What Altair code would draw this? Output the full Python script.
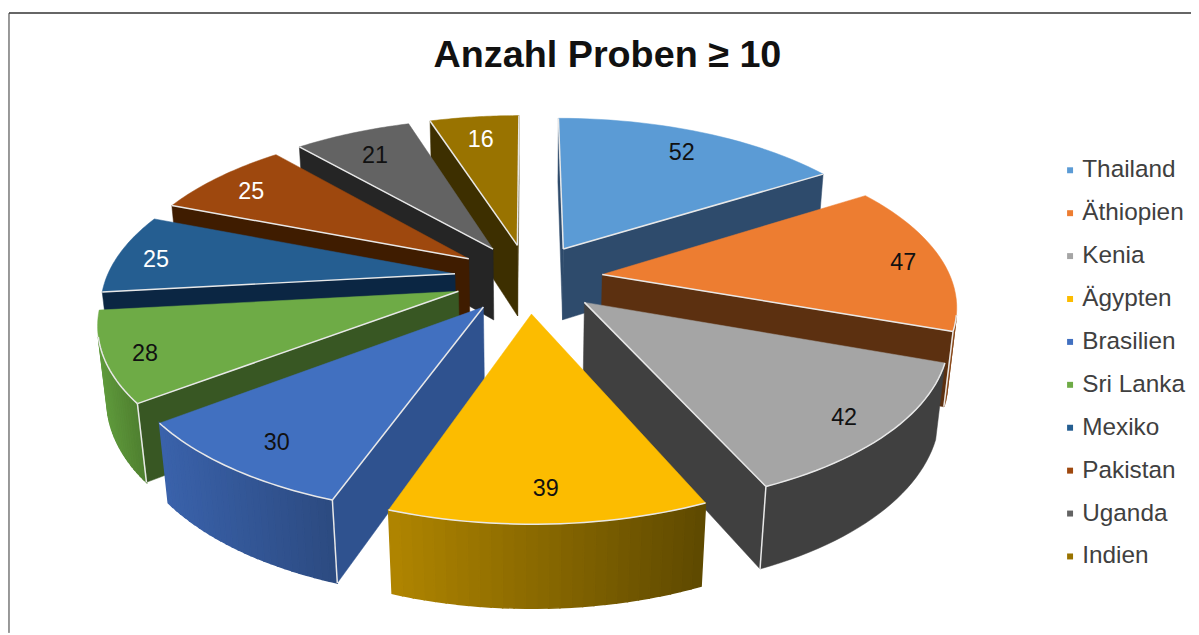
import math
import altair as alt

countries = ["Thailand", "Äthiopien", "Kenia", "Ägypten", "Brasilien", "Sri Lanka", "Mexiko", "Pakistan", "Uganda", "Indien"]
values = [52, 47, 42, 39, 30, 28, 25, 25, 21, 16]
top_colors = ["#5B9BD5", "#ED7D31", "#A5A5A5", "#FCBC00", "#4170C0", "#6EAB46", "#255E91", "#9E480E", "#636363", "#997300"]
side_colors = ["#2E4B6C", "#5C3010", "#404040", "#6B5400", "#2F528F", "#385723", "#0B2643", "#3F1C00", "#252525", "#3D2F00"]
outer_left = ["#3A6591", "#A85A22", "#404040", "#B08500", "#3A62AB", "#5F9A3C", "#1A4468", "#6E320A", "#444444", "#6B5000"]
outer_right = ["#3A6591", "#8A4A1C", "#404040", "#5E4900", "#2C4A80", "#4F8030", "#1A4468", "#6E320A", "#444444", "#6B5000"]
label_colors = ["#111111", "#111111", "#111111", "#111111", "#111111", "#111111", "#FFFFFF", "#FFFFFF", "#111111", "#FFFFFF"]

# pie geometry: a tilted, exploded disc seen in perspective
CX, CY = 532, 278
RADIUS, EXPLODE, DEPTH = 351, 75, 84
ELEV = math.radians(27.6)
CAMERA = 1860
LABEL_FRAC = [0.84, 0.89, 0.87, 0.84, 0.84, 0.89, 0.89, 0.86, 0.82, 0.83]
EDGE = "#E8E8E8"
PROJ = dict(type="identity", scale=1, translate=[-8, -8])


def proj(u, v, h=0.0):
    s = CAMERA / (CAMERA - v * math.cos(ELEV) - h * math.sin(ELEV))
    return [CX + u * s, CY + s * (v * math.sin(ELEV) - h * math.cos(ELEV))]


def hexmix(a, b, t):
    ca = [int(a[i:i + 2], 16) for i in (1, 3, 5)]
    cb = [int(b[i:i + 2], 16) for i in (1, 3, 5)]
    return "#%02X%02X%02X" % tuple(round(x + (y - x) * t) for x, y in zip(ca, cb))


def area(p):
    return sum(p[i][0] * p[(i + 1) % len(p)][1] - p[(i + 1) % len(p)][0] * p[i][1] for i in range(len(p))) / 2


def poly(pts, fill, stroke, width):
    return {"type": "Feature", "geometry": {"type": "Polygon", "coordinates": [pts + [pts[0]]]},
            "properties": {"fill": fill, "stroke": stroke, "sw": width}}


def line(pts, stroke, width):
    return {"type": "Feature", "geometry": {"type": "LineString", "coordinates": pts},
            "properties": {"fill": "transparent", "stroke": stroke, "sw": width}}


total = sum(values)
slices, start = [], 0.0
for i, val in enumerate(values):
    a0 = start / total * 2 * math.pi
    start += val
    a1 = start / total * 2 * math.pi
    slices.append((i, a0, a1))
# far slices first, near slices painted over them
slices.sort(key=lambda s: math.cos((s[1] + s[2]) / 2), reverse=True)

features, labels = [], []
for i, a0, a1 in slices:
    mid = (a0 + a1) / 2
    ox, oy = EXPLODE * math.sin(mid), -EXPLODE * math.cos(mid)

    def pt(r, a, h=0.0):
        return proj(ox + r * math.sin(a), oy - r * math.cos(a), h)

    n = 28
    angs = [a0 + (a1 - a0) * k / n for k in range(n + 1)]
    top = [pt(0, a0)] + [pt(RADIUS, a) for a in angs]
    walls = []
    # radial walls
    for a, flip in ((a0, True), (a1, False)):
        q = [pt(0, a), pt(RADIUS, a), pt(RADIUS, a, -DEPTH), pt(0, a, -DEPTH)]
        if flip:
            q = q[::-1]
        if area(q) > 0:
            features.append(poly(q, side_colors[i], side_colors[i], 0.5))
            walls.append(a)
    # outer wall, shaded left to right
    xs = [pt(RADIUS, a)[0] for a in angs]
    xmin, xmax = min(xs), max(xs)
    vis = [k for k in range(n) if area([pt(RADIUS, angs[k]), pt(RADIUS, angs[k + 1]),
                                        pt(RADIUS, angs[k + 1], -DEPTH), pt(RADIUS, angs[k], -DEPTH)]) < 0]
    if vis and outer_left[i] == outer_right[i]:
        arc = [angs[k] for k in vis] + [angs[vis[-1] + 1]]
        q = [pt(RADIUS, a) for a in arc] + [pt(RADIUS, a, -DEPTH) for a in reversed(arc)]
        features.append(poly(q, outer_left[i], outer_left[i], 0.5))
    else:
        for k in vis:
            q = [pt(RADIUS, angs[k]), pt(RADIUS, angs[k + 1]), pt(RADIUS, angs[k + 1], -DEPTH), pt(RADIUS, angs[k], -DEPTH)]
            t = ((q[0][0] + q[1][0]) / 2 - xmin) / max(xmax - xmin, 1)
            col = hexmix(outer_left[i], outer_right[i], t)
            features.append(poly(q, col, col, 1.5))
    # top face and its light edges
    features.append(poly(top, top_colors[i], top_colors[i], 0.5))
    for a in walls:
        features.append(line([pt(0, a), pt(RADIUS, a)], EDGE, 1.5))
        if vis and a in (angs[vis[0]], angs[vis[-1] + 1]):
            features.append(line([pt(RADIUS, a), pt(RADIUS, a, -DEPTH)], EDGE, 1.5))
    if vis:
        features.append(line([pt(RADIUS, angs[k]) for k in vis] + [pt(RADIUS, angs[vis[-1] + 1])], EDGE, 1.5))
    lx, ly = pt(RADIUS * LABEL_FRAC[i], mid)
    labels.append({"lon": lx, "lat": ly, "label": str(values[i]), "col": label_colors[i]})

pie = alt.Chart(alt.Data(values=features, format=alt.DataFormat(type="json"))).mark_geoshape().encode(
    fill=alt.Fill("properties.fill:N", scale=None),
    stroke=alt.Stroke("properties.stroke:N", scale=None),
    strokeWidth=alt.StrokeWidth("properties.sw:Q", scale=None),
).project(**PROJ)

text = alt.Chart(alt.Data(values=labels)).mark_text(font="Liberation Sans", fontSize=23.5, dy=4).encode(
    longitude="lon:Q",
    latitude="lat:Q",
    text="label:N",
    color=alt.Color("col:N", scale=None),
).project(**PROJ)

legend = alt.Chart(alt.Data(values=[{"c": c} for c in countries])).mark_square(size=0).encode(
    x=alt.value(0),
    y=alt.value(0),
    color=alt.Color(
        "c:N",
        scale=alt.Scale(domain=countries, range=top_colors),
        legend=alt.Legend(
            title=None, orient="none", legendX=1057, legendY=149, symbolType="square", symbolSize=36,
            symbolStrokeWidth=0, symbolOpacity=1, labelFont="Liberation Sans", labelFontSize=24.5,
            labelColor="#404040", labelOffset=0, rowPadding=18.2, labelLimit=200,
        ),
    ),
)

frame_top = alt.Chart(alt.Data(values=[{}])).mark_rule(color="#333333", strokeWidth=1.5).encode(
    x=alt.value(1), x2=alt.value(1191), y=alt.value(3))
frame_left = alt.Chart(alt.Data(values=[{}])).mark_rule(color="#333333", strokeWidth=1).encode(
    x=alt.value(1), y=alt.value(3), y2=alt.value(627))

chart = alt.layer(frame_top, frame_left, pie, text, legend).properties(
    width=1191, height=627, padding=0,
    autosize=alt.AutoSizeParams(type="none"),
    background="white",
    title=alt.TitleParams("Anzahl Proben ≥ 10", anchor="middle", dx=8, offset=-65, font="Liberation Sans",
                          fontSize=38, fontWeight="bold", color="#111111"),
).configure_view(stroke=None)

chart.save("out.html", embed_options={"renderer": "svg", "actions": False})
